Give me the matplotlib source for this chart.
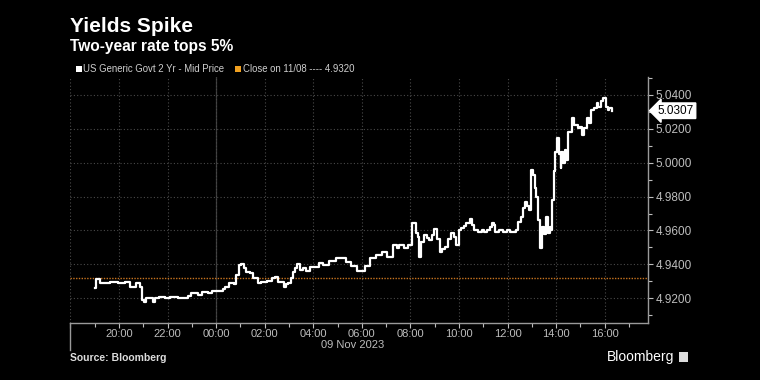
import pandas as pd
import numpy as np
import matplotlib
matplotlib.use('Agg')
import matplotlib.pyplot as plt
import matplotlib.dates as mdates
from matplotlib.patches import Rectangle
from matplotlib.ticker import MultipleLocator, FormatStrFormatter

plt.rcParams['font.family'] = ['Liberation Sans', 'DejaVu Sans']

# US Generic Govt 2 Yr - Mid Price
times = [
    '2023-11-08 19:00', '2023-11-08 19:03', '2023-11-08 19:12', '2023-11-08 19:37', '2023-11-08 19:57',
    '2023-11-08 20:14', '2023-11-08 20:26', '2023-11-08 20:41', '2023-11-08 20:51', '2023-11-08 20:56',
    '2023-11-08 21:01', '2023-11-08 21:06', '2023-11-08 21:23', '2023-11-08 21:28', '2023-11-08 21:40',
    '2023-11-08 21:53', '2023-11-08 22:05', '2023-11-08 22:25', '2023-11-08 22:50', '2023-11-08 22:59',
    '2023-11-08 23:14', '2023-11-08 23:24', '2023-11-08 23:39', '2023-11-08 23:49', '2023-11-09 00:04',
    '2023-11-09 00:16', '2023-11-09 00:21', '2023-11-09 00:33', '2023-11-09 00:43', '2023-11-09 00:50',
    '2023-11-09 00:56', '2023-11-09 01:01', '2023-11-09 01:08', '2023-11-09 01:13', '2023-11-09 01:23',
    '2023-11-09 01:30', '2023-11-09 01:43', '2023-11-09 01:52', '2023-11-09 02:05', '2023-11-09 02:17',
    '2023-11-09 02:25', '2023-11-09 02:34', '2023-11-09 02:47', '2023-11-09 02:52', '2023-11-09 02:57',
    '2023-11-09 03:04', '2023-11-09 03:09', '2023-11-09 03:16', '2023-11-09 03:21', '2023-11-09 03:26',
    '2023-11-09 03:34', '2023-11-09 03:43', '2023-11-09 03:51', '2023-11-09 04:03', '2023-11-09 04:13',
    '2023-11-09 04:25', '2023-11-09 04:40', '2023-11-09 04:57', '2023-11-09 05:12', '2023-11-09 05:22',
    '2023-11-09 05:34', '2023-11-09 05:49', '2023-11-09 06:07', '2023-11-09 06:21', '2023-11-09 06:36',
    '2023-11-09 06:51', '2023-11-09 07:01', '2023-11-09 07:16', '2023-11-09 07:26', '2023-11-09 07:33',
    '2023-11-09 07:45', '2023-11-09 07:53', '2023-11-09 08:03', '2023-11-09 08:05', '2023-11-09 08:13',
    '2023-11-09 08:18', '2023-11-09 08:22', '2023-11-09 08:27', '2023-11-09 08:33', '2023-11-09 08:40',
    '2023-11-09 08:47', '2023-11-09 08:54', '2023-11-09 08:59', '2023-11-09 09:05', '2023-11-09 09:12',
    '2023-11-09 09:19', '2023-11-09 09:26', '2023-11-09 09:33', '2023-11-09 09:41', '2023-11-09 09:48',
    '2023-11-09 09:53', '2023-11-09 09:59', '2023-11-09 10:06', '2023-11-09 10:13', '2023-11-09 10:18',
    '2023-11-09 10:26', '2023-11-09 10:31', '2023-11-09 10:38', '2023-11-09 10:46', '2023-11-09 10:56',
    '2023-11-09 11:03', '2023-11-09 11:10', '2023-11-09 11:16', '2023-11-09 11:21', '2023-11-09 11:26',
    '2023-11-09 11:30', '2023-11-09 11:40', '2023-11-09 11:48', '2023-11-09 11:58', '2023-11-09 12:07',
    '2023-11-09 12:20', '2023-11-09 12:27', '2023-11-09 12:32', '2023-11-09 12:39', '2023-11-09 12:44',
    '2023-11-09 12:49', '2023-11-09 12:54', '2023-11-09 12:59', '2023-11-09 13:04', '2023-11-09 13:08',
    '2023-11-09 13:11', '2023-11-09 13:16', '2023-11-09 13:21', '2023-11-09 13:26', '2023-11-09 13:31',
    '2023-11-09 13:36', '2023-11-09 13:41', '2023-11-09 13:45', '2023-11-09 13:48', '2023-11-09 13:51',
    '2023-11-09 13:55', '2023-11-09 13:58', '2023-11-09 14:01', '2023-11-09 14:06', '2023-11-09 14:11',
    '2023-11-09 14:13', '2023-11-09 14:18', '2023-11-09 14:22', '2023-11-09 14:25', '2023-11-09 14:30',
    '2023-11-09 14:38', '2023-11-09 14:45', '2023-11-09 14:53', '2023-11-09 15:00', '2023-11-09 15:05',
    '2023-11-09 15:10', '2023-11-09 15:17', '2023-11-09 15:22', '2023-11-09 15:27', '2023-11-09 15:34',
    '2023-11-09 15:40', '2023-11-09 15:44', '2023-11-09 15:52', '2023-11-09 15:57', '2023-11-09 16:02',
    '2023-11-09 16:07', '2023-11-09 16:11', '2023-11-09 16:17',
]
yields = [
    4.9260, 4.9314, 4.9290, 4.9294, 4.9289,
    4.9294, 4.9268, 4.9289, 4.9268, 4.9190,
    4.9178, 4.9202, 4.9178, 4.9202, 4.9210,
    4.9202, 4.9210, 4.9202, 4.9215, 4.9230,
    4.9222, 4.9239, 4.9232, 4.9245, 4.9245,
    4.9252, 4.9268, 4.9292, 4.9285, 4.9340,
    4.9396, 4.9402, 4.9380, 4.9357, 4.9350,
    4.9318, 4.9289, 4.9298, 4.9304, 4.9318,
    4.9327, 4.9298, 4.9268, 4.9285, 4.9289,
    4.9320, 4.9357, 4.9380, 4.9402, 4.9365,
    4.9377, 4.9362, 4.9386, 4.9386, 4.9410,
    4.9396, 4.9422, 4.9436, 4.9436, 4.9416,
    4.9391, 4.9363, 4.9391, 4.9436, 4.9455,
    4.9475, 4.9445, 4.9514, 4.9495, 4.9514,
    4.9495, 4.9514, 4.9514, 4.9646, 4.9584,
    4.9562, 4.9445, 4.9535, 4.9573, 4.9555,
    4.9544, 4.9575, 4.9607, 4.9550, 4.9475,
    4.9490, 4.9504, 4.9550, 4.9584, 4.9563,
    4.9514, 4.9603, 4.9613, 4.9625, 4.9643,
    4.9666, 4.9635, 4.9603, 4.9593, 4.9603,
    4.9593, 4.9603, 4.9620, 4.9643, 4.9630,
    4.9593, 4.9603, 4.9593, 4.9603, 4.9593,
    4.9603, 4.9650, 4.9681, 4.9730, 4.9770,
    4.9745, 4.9721, 4.9957, 4.9928, 4.9850,
    4.9800, 4.9662, 4.9495, 4.9622, 4.9580,
    4.9681, 4.9584, 4.9620, 4.9603, 4.9780,
    4.9950, 5.0065, 5.0144, 5.0050, 4.9967,
    5.0065, 4.9997, 5.0075, 5.0016, 5.0183,
    5.0262, 5.0222, 5.0203, 5.0210, 5.0163,
    5.0203, 5.0262, 5.0232, 5.0311, 5.0321,
    5.0350, 5.0331, 5.0364, 5.0384, 5.0331,
    5.0311, 5.0321, 5.0307,
]
prev_close = 4.9320
last_value = 5.0307

ts = pd.to_datetime(times)

fig = plt.figure(figsize=(7.6, 3.8), dpi=100, facecolor='black')
ax = fig.add_axes([70 / 760, 57 / 380, 578 / 760, 246 / 380])
ax.set_facecolor('black')

grey = '#bdbdbd'
grid = '#4a4a4a'

ax.plot(ts, yields, color='white', lw=1.6, drawstyle='steps-post', zorder=3)
ax.axhline(prev_close, color='#c8741f', lw=1.0, ls=(0, (1, 1)), zorder=2)

ax.set_xlim(pd.Timestamp('2023-11-08 17:59'), pd.Timestamp('2023-11-09 17:47'))
ax.set_ylim(4.9054, 5.0506)

ax.xaxis.set_major_locator(mdates.HourLocator(byhour=range(0, 24, 2)))
ax.xaxis.set_minor_locator(mdates.HourLocator())
ax.xaxis.set_major_formatter(mdates.DateFormatter('%H:%M'))
ax.yaxis.tick_right()
ax.yaxis.set_major_locator(MultipleLocator(0.02))
ax.yaxis.set_minor_locator(MultipleLocator(0.01))
ax.yaxis.set_major_formatter(FormatStrFormatter('%.4f'))

ax.tick_params(which='both', colors=grey, labelsize=8.5, direction='out')
ax.tick_params(axis='x', labelsize=8)
ax.tick_params(which='major', length=3.5, width=0.8, pad=2)
ax.tick_params(axis='x', which='major', pad=1)
ax.tick_params(which='minor', length=3, width=0.8)

ax.grid(True, which='major', color=grid, lw=0.8, ls=(0, (1, 2)))
ax.axvline(pd.Timestamp('2023-11-09 00:00'), color='#3a3a3a', lw=0.9, zorder=1)

for side in ['top', 'left']:
    ax.spines[side].set_visible(False)
for side in ['bottom', 'right']:
    ax.spines[side].set_color('#9a9a9a')
    ax.spines[side].set_linewidth(1.0)

ax.xaxis.get_major_ticks()[0].label1.set_visible(False)
ax.plot([0, 0], [0, -0.11], transform=ax.transAxes, color='#9a9a9a', lw=1.0, clip_on=False)

# last-value tag
ax.annotate(f'{last_value:.4f}', xy=(1.0, last_value), xycoords=('axes fraction', 'data'),
            xytext=(7, 0), textcoords='offset points', va='center', ha='left',
            fontsize=8.5, color='black',
            bbox=dict(boxstyle='larrow,pad=0.15', fc='white', ec='white'))

fig.text(353 / 760, 1 - 345 / 380, '09 Nov 2023', color=grey, fontsize=8, ha='center', va='center')

# titles
fig.text(70 / 760, 1 - 27 / 380, 'Yields Spike', color='white', fontsize=15,
         fontweight='bold', va='center')
fig.text(70 / 760, 1 - 47 / 380, 'Two-year rate tops 5%', color='white', fontsize=11.2,
         fontweight='bold', va='center')

# legend row
fig.patches.append(Rectangle((76 / 760, 1 - 72 / 380), 6 / 760, 6 / 380, transform=fig.transFigure,
                             fc='white', ec='none'))
fig.text(83 / 760, 1 - 69 / 380, 'US Generic Govt 2 Yr - Mid Price', color='#cfcfcf', fontsize=6.9, va='center')
fig.patches.append(Rectangle((235 / 760, 1 - 72 / 380), 6 / 760, 6 / 380, transform=fig.transFigure,
                             fc='#f0a020', ec='none'))
fig.text(243 / 760, 1 - 69 / 380, 'Close on 11/08 ---- 4.9320', color='#cfcfcf', fontsize=6.9, va='center')

# footer
fig.text(70 / 760, 1 - 358 / 380, 'Source: Bloomberg', color='#dddddd', fontsize=7.5,
         fontweight='bold', va='center')
fig.text(674 / 760, 1 - 357 / 380, 'Bloomberg', color='white', fontsize=10, ha='right', va='center')
fig.patches.append(Rectangle((679 / 760, 1 - 362 / 380), 9 / 760, 10 / 380, transform=fig.transFigure,
                             fc='#dddddd', ec='none'))

plt.savefig('out.png', dpi=100, facecolor='black')
plt.close('all')
